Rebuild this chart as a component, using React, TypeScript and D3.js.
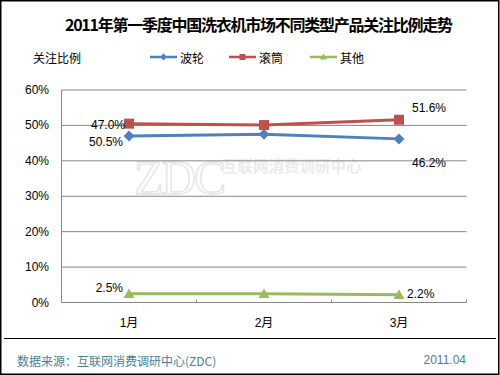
import { scaleBand, scaleLinear, line } from 'd3'

const months = ['1月', '2月', '3月']
const boLun = [47.0, 47.5, 46.2]
const gunTong = [50.5, 50.1, 51.6]
const qiTa = [2.5, 2.5, 2.2]
// label text as printed on the chart (1月 labels appear swapped in the source)
const boLunLabels = ['50.5%', '', '46.2%']
const gunTongLabels = ['47.0%', '', '51.6%']
const qiTaLabels = ['2.5%', '', '2.2%']
const yTicks = [0, 10, 20, 30, 40, 50, 60]

const W = 500, H = 375
const plot = { left: 61.5, right: 466.5, top: 90, bottom: 302.5 }
const fontLatin = '"Liberation Sans", Arial, "Noto Sans CJK SC", sans-serif'
const fontCjk = '"Noto Sans CJK SC", "Liberation Sans", sans-serif'
const gridColor = '#868686'

const series = [
  { name: '波轮', values: boLun, labels: boLunLabels, color: '#4f81bd', marker: 'diamond',
    place: [[-6, 6, 'end'], null, [13, 24, 'start']] },
  { name: '滚筒', values: gunTong, labels: gunTongLabels, color: '#c0504d', marker: 'square',
    place: [[-4, 1, 'end'], null, [13, -12, 'start']] },
  { name: '其他', values: qiTa, labels: qiTaLabels, color: '#9bbb59', marker: 'triangle',
    place: [[-6, -6, 'end'], null, [8, -1, 'start']] },
]

function Marker({ type, x, y, s, color }: { type: string, x: number, y: number, s: number, color: string }) {
  if (type === 'square') {
    return <rect x={x - s / 2} y={y - s / 2} width={s} height={s} fill={color} />
  }
  if (type === 'diamond') {
    const r = s / 2 + 0.5
    return <path d={`M${x},${y - r}L${x + r},${y}L${x},${y + r}L${x - r},${y}Z`} fill={color} />
  }
  const h = s * 0.85
  return <path d={`M${x},${y - h / 2 - 1}L${x + s / 2 + 0.5},${y + h / 2}L${x - s / 2 - 0.5},${y + h / 2}Z`} fill={color} />
}

function App() {
  const x = scaleBand<string>().domain(months).range([plot.left, plot.right])
  const y = scaleLinear().domain([0, 60]).range([plot.bottom, plot.top])
  const cx = (m: string) => (x(m) as number) + x.bandwidth() / 2

  const path = line<number>()
    .x((_, i) => cx(months[i]))
    .y(d => y(d))

  const legendX = [150, 229, 310]

  return (
    <svg width={W} height={H} style={{ position: 'absolute', left: 0, top: 0, background: '#fff' }}>
      <rect x={0.75} y={0.75} width={W - 2} height={H - 1.5} fill="#fff" stroke="#000" strokeWidth={1.5} />

      <text x={65} y={24} dominantBaseline="central" textLength={388} lengthAdjust="spacing"
        fontFamily={fontCjk} fontWeight="bold" fontSize={16} fill="#000">
        2011年第一季度中国洗衣机市场不同类型产品关注比例走势
      </text>

      <text x={33} y={57} dominantBaseline="central" fontFamily={fontCjk} fontSize={12} fill="#000">关注比例</text>

      {series.map((s, i) => (
        <g key={s.name}>
          <line x1={legendX[i]} x2={legendX[i] + 27} y1={57} y2={57} stroke={s.color} strokeWidth={2.5} />
          <Marker type={s.marker} x={legendX[i] + 13.5} y={57} s={6} color={s.color} />
          <text x={legendX[i] + 30} y={57} dominantBaseline="central" fontFamily={fontCjk} fontSize={12} fill="#000">{s.name}</text>
        </g>
      ))}

      {/* watermark */}
      <g>
        <text x={134} y={177} dominantBaseline="central" fontFamily='"Liberation Serif", serif' fontSize={48} letterSpacing={-2}
          fill="none" stroke="#e4e4e4" strokeWidth={1.3}>ZDC</text>
        <text x={222} y={165} dominantBaseline="central" fontFamily={fontCjk} fontWeight="bold" fontSize={15.5} fill="#ebebeb">互联网消费调研中心</text>
      </g>

      {yTicks.map(t => (
        <g key={t}>
          {t > 0 && <line x1={plot.left} x2={plot.right} y1={y(t)} y2={y(t)} stroke={gridColor} strokeWidth={1} />}
          <text x={49} y={y(t)} textAnchor="end" dominantBaseline="central" fontFamily={fontLatin} fontSize={12} fill="#000">{t}%</text>
        </g>
      ))}
      <line x1={plot.left} x2={plot.left} y1={plot.top} y2={plot.bottom} stroke={gridColor} strokeWidth={1} />
      <line x1={plot.left} x2={plot.right} y1={plot.bottom} y2={plot.bottom} stroke={gridColor} strokeWidth={1} />
      {months.concat(['end']).map((m, i) => {
        const tx = plot.left + i * x.bandwidth()
        return <line key={m} x1={tx} x2={tx} y1={plot.bottom} y2={plot.bottom - 3} stroke={gridColor} strokeWidth={1} />
      })}
      {months.map(m => (
        <text key={m} x={cx(m)} y={323} textAnchor="middle" dominantBaseline="central" fontFamily={fontLatin} fontSize={12} fill="#000">{m}</text>
      ))}

      {series.map(s => (
        <g key={s.name}>
          <path d={path(s.values) as string} fill="none" stroke={s.color} strokeWidth={3} />
          {s.values.map((v, i) => (
            <Marker key={i} type={s.marker} x={cx(months[i])} y={y(v)} s={10} color={s.color} />
          ))}
          {s.labels.map((lab, i) => {
            const p = s.place[i]
            if (!lab || !p) return null
            return (
              <text key={i} x={cx(months[i]) + (p[0] as number)} y={y(s.values[i]) + (p[1] as number)}
                textAnchor={p[2] as string} dominantBaseline="central" fontFamily={fontLatin} fontSize={12} fill="#000">{lab}</text>
            )
          })}
        </g>
      ))}

      <line x1={4} x2={496} y1={338.5} y2={338.5} stroke="#000" strokeWidth={1} />
      <text x={17} y={360} dominantBaseline="central" fontFamily={fontCjk} fontSize={12} fill="#4a7f99">数据来源：互联网消费调研中心(ZDC)</text>
      <text x={466} y={360} textAnchor="end" dominantBaseline="central" fontFamily={fontLatin} fontSize={12} fill="#4a7f99">2011.04</text>
    </svg>
  )
}

export default App
